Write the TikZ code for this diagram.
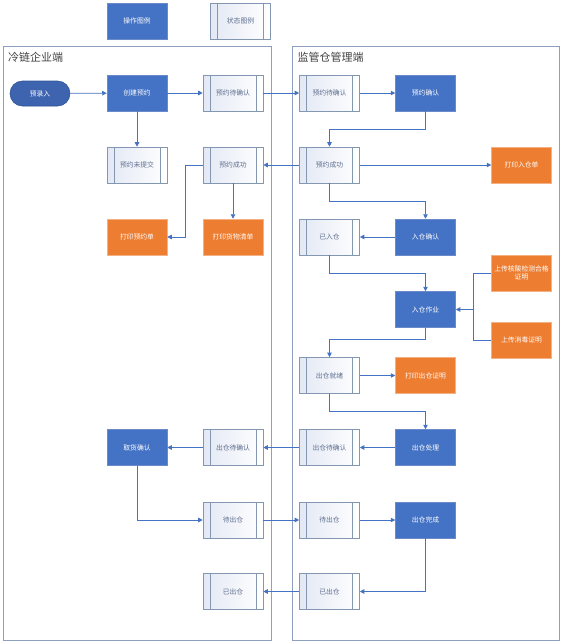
\documentclass[tikz,border=0pt]{standalone}
\usepackage{fontspec}
\setmainfont{Noto Sans CJK SC}
\usetikzlibrary{arrows.meta}
\definecolor{opblue}{HTML}{4472C4}
\definecolor{opborder}{HTML}{6A8AC9}
\definecolor{orng}{HTML}{ED7D31}
\definecolor{stborder}{HTML}{8497B0}
\definecolor{sttext}{HTML}{5F6F8F}
\definecolor{stfill}{HTML}{E3E8F4}
\definecolor{pane}{HTML}{8EA0BF}
\definecolor{pillfill}{HTML}{3E64B0}
\definecolor{pilldraw}{HTML}{2F5597}
\definecolor{ttl}{HTML}{404040}
\tikzset{
  box/.style={minimum width=60pt,minimum height=36pt,inner sep=1pt,align=center,font=\fontsize{6.8}{8.5}\selectfont},
  opbox/.style={box,fill=opblue,draw=opborder,line width=0.5pt,text=white},
  orbox/.style={box,fill=orng,draw=orng!60!white,line width=0.5pt,text=white},
  stbox/.style={box,left color=stfill,right color=white,draw=stborder,line width=0.6pt,text=sttext,
    path picture={\draw[stborder,line width=0.6pt]
        ([xshift=7pt]path picture bounding box.north west) -- ([xshift=7pt]path picture bounding box.south west)
        ([xshift=-7pt]path picture bounding box.north east) -- ([xshift=-7pt]path picture bounding box.south east);}},
  pill/.style={box,minimum width=60pt,minimum height=25pt,rounded corners=12.5pt,fill=pillfill,draw=pilldraw,line width=0.6pt,text=white},
  conn/.style={draw=opblue,line width=0.8pt,-{Triangle[length=4.5pt,width=4.5pt]}},
  plain/.style={draw=opblue,line width=0.8pt},
  panebox/.style={draw=pane,line width=0.8pt},
  title/.style={font=\fontsize{11}{13}\selectfont,text=ttl,anchor=west,inner sep=0pt}
}
\begin{document}
\begin{tikzpicture}[x=1pt,y=-1pt]
\useasboundingbox (0,0) rectangle (562,643);
% legend
\node[opbox] (lgop) at (137,21) {操作图例};
\node[stbox] (lgst) at (240.5,21) {状态图例};
% panes
\draw[panebox] (3,46) rectangle (271,640);
\draw[panebox] (292.5,46) rectangle (559,640);
\node[title] (t1) at (8,57.5) {冷链企业端};
\node[title] (t2) at (297.5,57.5) {监管仓管理端};
% row 1
\node[pill] (ylr) at (40,93.5) {预录入};
\node[opbox] (cjyy) at (137,93) {创建预约};
\node[stbox] (ddqL) at (233,93) {预约待确认};
\node[stbox] (ddqR) at (329.5,93) {预约待确认};
\node[opbox] (yyqr) at (425.5,93) {预约确认};
% row 2
\node[stbox] (wtj) at (137,165) {预约未提交};
\node[stbox] (cgL) at (233,165) {预约成功};
\node[stbox] (cgR) at (329.5,165) {预约成功};
\node[orbox] (dyrcd) at (521.5,165) {打印入仓单};
% row 3
\node[orbox] (dyyyd) at (137,237) {打印预约单};
\node[orbox] (dyhw) at (233,237) {打印货物清单};
\node[stbox] (yrc) at (329.5,237) {已入仓};
\node[opbox] (rcqr) at (425.5,237) {入仓确认};
% row 4
\node[orbox] (sc1) at (521.5,273) {上传核酸检测合格\\证明};
\node[opbox] (rczy) at (425.5,309.5) {入仓作业};
\node[orbox] (sc2) at (521.5,340) {上传消毒证明};
% row 5
\node[stbox] (cjx) at (329.5,375.5) {出仓就绪};
\node[orbox] (dyccz) at (425.5,375.5) {打印出仓证明};
% row 6
\node[opbox] (qhqr) at (137,447.5) {取货确认};
\node[stbox] (cdqL) at (233,447.5) {出仓待确认};
\node[stbox] (cdqR) at (329.5,447.5) {出仓待确认};
\node[opbox] (cccl) at (425.5,447.5) {出仓处理};
% row 7
\node[stbox] (dccL) at (233,520) {待出仓};
\node[stbox] (dccR) at (329.5,520) {待出仓};
\node[opbox] (ccwc) at (425.5,520) {出仓完成};
% row 8
\node[stbox] (yccL) at (233,591.5) {已出仓};
\node[stbox] (yccR) at (329.5,591.5) {已出仓};
% connectors
\draw[conn] (ylr) -- (cjyy);
\draw[conn] (cjyy) -- (ddqL);
\draw[conn] (ddqL) -- (ddqR);
\draw[conn] (ddqR) -- (yyqr);
\draw[conn] (cjyy) -- (wtj);
\draw[conn] (yyqr.south) -- ++(0,18) -| (cgR.north);
\draw[conn] (cgR) -- (cgL);
\draw[conn] (cgR) -- (dyrcd);
\draw[conn] (cgL.west) -- ++(-17,0) |- (dyyyd.east);
\draw[conn] (cgL) -- (dyhw);
\draw[conn] (cgR.south) -- ++(0,18) -| (rcqr.north);
\draw[conn] (rcqr) -- (yrc);
\draw[conn] (yrc.south) -- ++(0,18) -| (rczy.north);
\coordinate (jn) at (473,309.5);
\draw[plain] (sc1.west) -| (jn);
\draw[plain] (sc2.west) -| (jn);
\draw[conn] (jn) -- (rczy.east);
\draw[conn] (rczy.south) -- ++(0,12) -| (cjx.north);
\draw[conn] (cjx) -- (dyccz);
\draw[conn] (cjx.south) -- ++(0,18) -| (cccl.north);
\draw[conn] (cccl) -- (cdqR);
\draw[conn] (cdqR) -- (cdqL);
\draw[conn] (cdqL) -- (qhqr);
\draw[conn] (qhqr.south) |- (dccL.west);
\draw[conn] (dccL) -- (dccR);
\draw[conn] (dccR) -- (ccwc);
\draw[conn] (ccwc.south) |- (yccR.east);
\draw[conn] (yccR) -- (yccL);
\end{tikzpicture}
\end{document}
